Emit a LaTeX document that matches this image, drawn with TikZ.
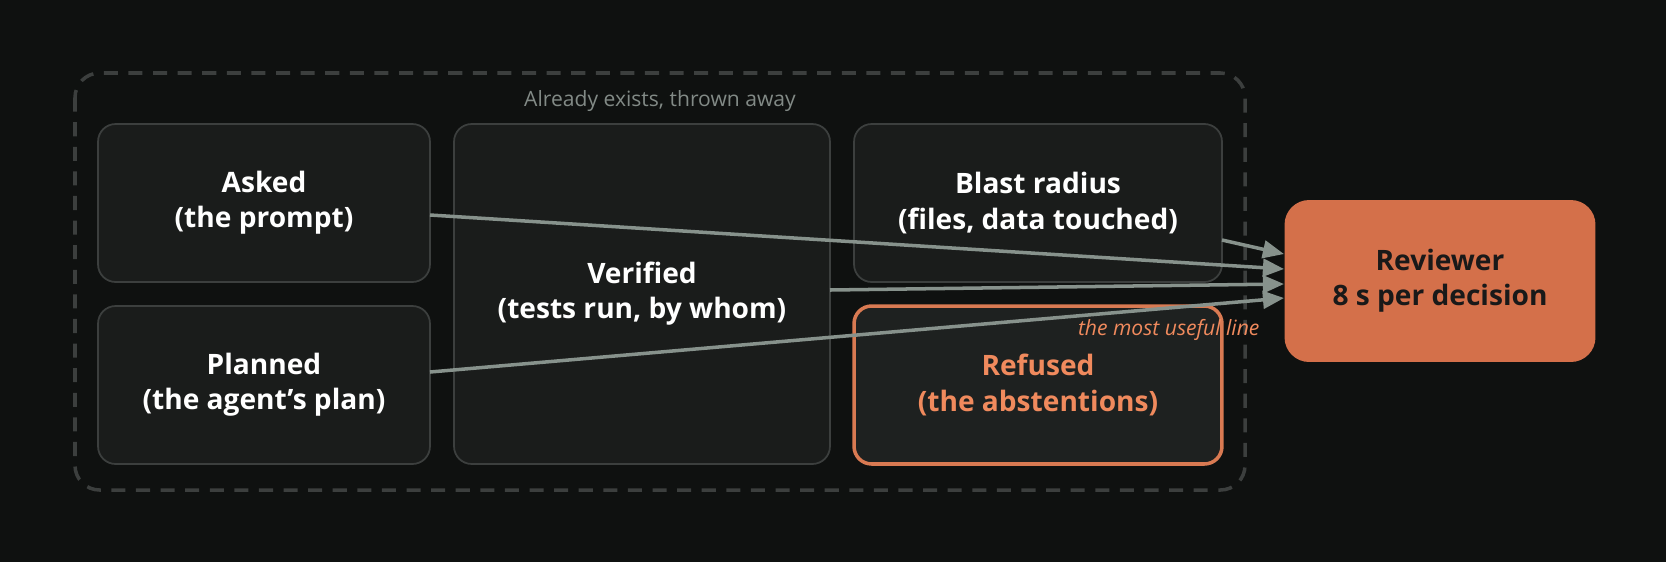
\documentclass[tikz,border=0pt]{standalone}
\usepackage{fontspec}
\setmainfont{Open Sans}
\usepackage{tikz}
\usetikzlibrary{arrows.meta,positioning}
\definecolor{bgdark}{RGB}{15,17,16}
\definecolor{boxfill}{RGB}{26,28,27}
\definecolor{refusedfill}{RGB}{30,33,32}
\definecolor{boxline}{RGB}{60,63,62}
\definecolor{greytext}{RGB}{130,138,134}
\definecolor{arrowgrey}{RGB}{135,146,140}
\definecolor{orangeline}{RGB}{217,122,82}
\definecolor{orangetext}{RGB}{240,138,93}
\definecolor{revfill}{RGB}{212,112,74}
\tikzstyle{panel} = [rectangle, rounded corners=10pt, draw=boxline, fill=boxfill, line width=1pt, text=white, align=center, font=\fontsize{16}{20}\selectfont\bfseries]
\tikzstyle{arrow} = [line width=2pt, draw=arrowgrey, -{Triangle[length=12pt,width=10pt]}]

\begin{document}
\begin{tikzpicture}[x=0.02cm, y=-0.02cm]
    \useasboundingbox[fill=bgdark] (0,0) rectangle (1666,562);

    % Outer frame
    \draw[boxline, line width=2pt, dash pattern=on 8pt off 6pt, rounded corners=14pt] (75,73) rectangle (1245,490);
    \node[text=greytext, font=\fontsize{12}{14}\selectfont] (frame) at (660,101) {Already exists, thrown away};

    % Left column
    \node[panel, minimum width=6.64cm, minimum height=3.16cm] (asked) at (264,203) {Asked\\(the prompt)};
    \node[panel, minimum width=6.64cm, minimum height=3.16cm] (planned) at (264,385) {Planned\\(the agent's plan)};

    % Middle
    \node[panel, minimum width=7.52cm, minimum height=6.8cm] (verified) at (642,294) {Verified\\(tests run, by whom)};

    % Right column
    \node[panel, minimum width=7.36cm, minimum height=3.16cm] (blast) at (1038,203) {Blast radius\\(files, data touched)};
    \node[panel, minimum width=7.36cm, minimum height=3.16cm, draw=orangeline, line width=2pt, fill=refusedfill, text=orangetext] (refused) at (1038,385) {Refused\\(the abstentions)};

    % Reviewer
    \node[panel, minimum width=6.22cm, minimum height=3.24cm, draw=none, fill=revfill, text=black!90, rounded corners=14pt] (reviewer) at (1440,281) {Reviewer\\8 s per decision};

    % Connections
    \coordinate (a1) at (430,215);
    \coordinate (p1) at (430,372);
    \coordinate (v1) at (830,290);
    \coordinate (b1) at (1222,240);
    \coordinate (r1) at (1284,269);
    \coordinate (r2) at (1284,254);
    \coordinate (r3) at (1284,284);
    \coordinate (r4) at (1284,298);
    \draw[arrow] (a1) -- (r1);
    \draw[arrow] (b1) -- (r2);
    \draw[arrow] (v1) -- (r3);
    \draw[arrow] (p1) -- (r4) node[pos=0.865, below=2pt, text=orangetext, font=\fontsize{12}{14}\selectfont\itshape] {the most useful line};
\end{tikzpicture}
\end{document}
